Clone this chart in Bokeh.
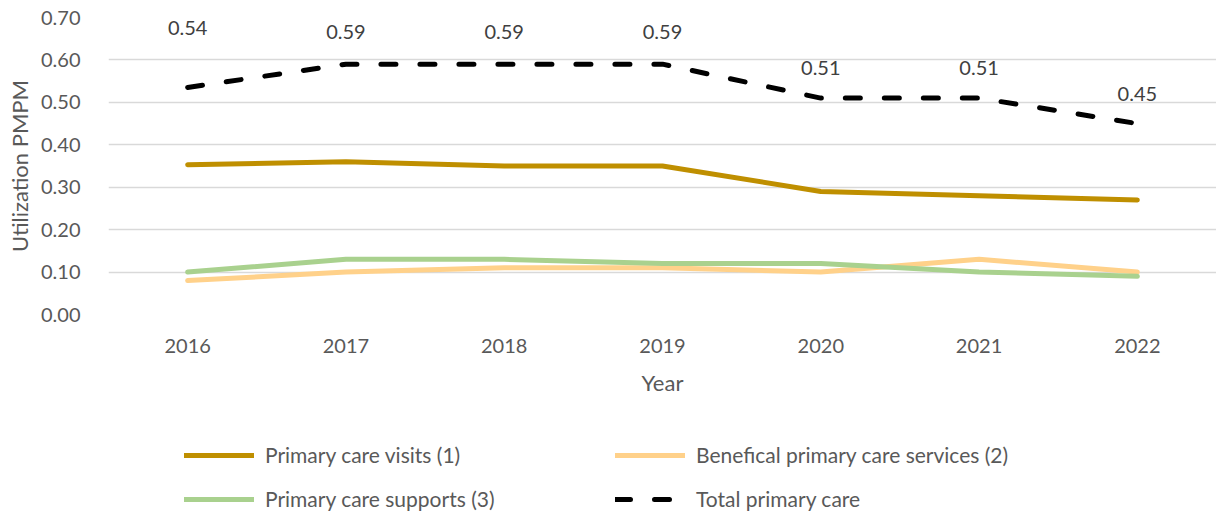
from bokeh.plotting import figure
from bokeh.layouts import column
from bokeh.models import ColumnDataSource, Legend, LegendItem, FixedTicker, NumeralTickFormatter, Range1d
from bokeh.core.properties import value
from bokeh.embed import file_html
from bokeh.resources import INLINE

years = ["2016", "2017", "2018", "2019", "2020", "2021", "2022"]
primary_care_visits = [0.353, 0.36, 0.35, 0.35, 0.29, 0.28, 0.27]
beneficial_services = [0.08, 0.10, 0.11, 0.11, 0.10, 0.13, 0.10]
primary_care_supports = [0.10, 0.13, 0.13, 0.12, 0.12, 0.10, 0.09]
total_primary_care = [0.535, 0.59, 0.59, 0.59, 0.51, 0.51, 0.45]
total_labels = ["0.54", "0.59", "0.59", "0.59", "0.51", "0.51", "0.45"]
y_ticks = [0.0, 0.1, 0.2, 0.3, 0.4, 0.5, 0.6, 0.7]
series_names = ["Primary care visits (1)", "Benefical primary care services (2)",
                "Primary care supports (3)", "Total primary care"]

# styling (screen-pixel offsets for the data labels)
label_dy = [-60, -32, -32, -32, -30, -30, -30]

FONT = "Lato"
TXT = "#595959"
W = 1216

src = ColumnDataSource(dict(year=years, visits=primary_care_visits, ben=beneficial_services,
                            sup=primary_care_supports, total=total_primary_care,
                            lab=total_labels, dy=label_dy))

styles = [
    dict(line_color="#BF8F00", line_width=5, line_cap="round", line_join="round"),
    dict(line_color="#FFD18A", line_width=5, line_cap="round", line_join="round"),
    dict(line_color="#A9D18E", line_width=5, line_cap="round", line_join="round"),
    dict(line_color="black", line_width=5, line_dash="15 24", line_cap="round", line_join="round"),
]
cols = ["visits", "ben", "sup", "total"]

# ---------------- main chart ----------------
p = figure(x_range=years, y_range=Range1d(0, 0.7),
           width=W, height=430, output_backend="svg", toolbar_location=None,
           min_border_left=108, min_border_right=0, min_border_top=17, min_border_bottom=116)
p.frame_width = 1108
p.frame_height = 297
p.outline_line_color = None
p.background_fill_color = "white"
p.border_fill_color = "white"

p.xgrid.visible = False
p.ygrid.grid_line_color = "#D9D9D9"
p.ygrid.grid_line_width = 1.5

p.yaxis.ticker = FixedTicker(ticks=y_ticks)
p.yaxis.formatter = NumeralTickFormatter(format="0.00")
for ax in (p.xaxis[0], p.yaxis[0]):
    ax.axis_line_color = None
    ax.major_tick_line_color = None
    ax.minor_tick_line_color = None
    ax.major_label_text_font = FONT
    ax.major_label_text_font_size = "20px"
    ax.major_label_text_color = TXT
    ax.axis_label_text_font = FONT
    ax.axis_label_text_font_size = "22px"
    ax.axis_label_text_color = TXT
    ax.axis_label_text_font_style = "normal"

p.yaxis.axis_label = "Utilization PMPM"
p.yaxis.major_label_standoff = 22
p.yaxis.axis_label_standoff = 5
p.xaxis.axis_label = "Year"
p.xaxis.major_label_standoff = 18
p.xaxis.axis_label_standoff = 13

for c, st in zip(cols, styles):
    p.line("year", c, source=src, **st)

p.text("year", "total", text="lab", y_offset="dy", source=src, text_align="center",
       text_baseline="middle", text_font=value(FONT), text_font_size="20px", text_color="#404040")

# ---------------- legend strip ----------------
lg = figure(x_range=years, y_range=Range1d(0, 1), width=W, height=82,
            output_backend="svg", toolbar_location=None,
            x_axis_type=None, y_axis_type=None, min_border=0)
lg.outline_line_color = None
lg.background_fill_color = "white"
lg.border_fill_color = "white"

items = []
for c, st, name in zip(cols, styles, series_names):
    r = lg.line("year", c, source=src, visible=False, **st)
    items.append(LegendItem(label=name, renderers=[r]))

legend = Legend(items=items, location=(76, 1), orientation="horizontal", ncols=2)
legend.padding = 0
legend.margin = 0
legend.border_line_color = None
legend.background_fill_alpha = 0
legend.inactive_fill_alpha = 0
legend.glyph_width = 70
legend.glyph_height = 20
legend.label_height = 20
legend.label_width = 331
legend.label_standoff = 11
legend.spacing = 19
legend.label_text_font = FONT
legend.label_text_font_size = "21px"
legend.label_text_color = TXT
lg.add_layout(legend, "center")

layout = column(p, lg, spacing=0)
open("out.html", "w").write(file_html(layout, INLINE))
